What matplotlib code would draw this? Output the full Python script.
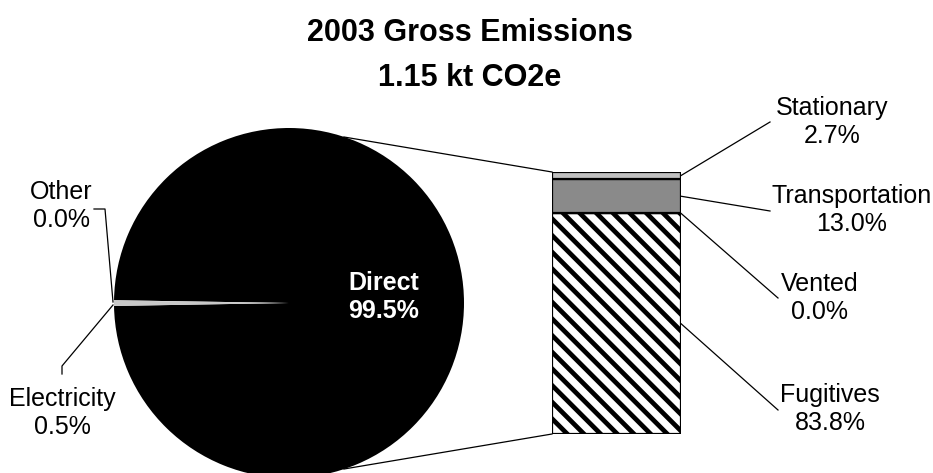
import matplotlib
matplotlib.use('Agg')
import matplotlib.pyplot as plt

plt.rcParams['font.family'] = ['Liberation Sans', 'DejaVu Sans']
plt.rcParams['hatch.linewidth'] = 3.4

# pie: total split into Direct / Electricity / Other
pie_labels = ['Direct', 'Electricity', 'Other']
pie_values = [99.5, 0.5, 0.02]
pie_pct = ['99.5%', '0.5%', '0.0%']

# bar: Direct broken down (bottom to top)
bar_labels = ['Fugitives', 'Vented', 'Transportation', 'Stationary']
bar_values = [83.8, 0.0, 13.0, 2.7]
bar_pct = ['83.8%', '0.0%', '13.0%', '2.7%']

W, H = 933, 473
fig = plt.figure(figsize=(W / 100, H / 100), dpi=100)
ax = fig.add_axes([0, 0, 1, 1])

ax.pie(pie_values, colors=['black', '#c8c8c8', '#e0e0e0'], startangle=180.9,
       counterclock=True, center=(289, 303), radius=175, frame=True,
       wedgeprops=dict(linewidth=0))
ax.set_xlim(0, W)
ax.set_ylim(H, 0)
ax.set_aspect('auto')
ax.axis('off')

# bar of pie
bax = fig.add_axes([552 / W, (H - 434) / H, 129 / W, 262 / H])
face = ['white', 'white', '#8a8a8a', '#c0c0c0']
hatch = ['\\\\', None, None, None]
bottom = 0
mids = []
for v, fc, h in zip(bar_values, face, hatch):
    bax.bar(0, v, width=1, bottom=bottom, color=fc, hatch=h,
            edgecolor='black', linewidth=1.6)
    mids.append(bottom + v / 2)
    bottom += v
bax.set_xlim(-0.5, 0.5)
bax.set_ylim(0, sum(bar_values))
bax.axis('off')


def to_main(x, y):
    px = bax.transData.transform((x, y))
    return ax.transData.inverted().transform(px)


lk = dict(color='black', linewidth=0.9)
# lines linking pie to bar
top_l = to_main(-0.5, sum(bar_values))
bot_l = to_main(-0.5, 0)
ax.plot([344, top_l[0]], [137, top_l[1]], **lk)
ax.plot([344, bot_l[0]], [469, bot_l[1]], **lk)

# bar labels
label_pos = {'Stationary': (832, 122), 'Transportation': (852, 210),
             'Vented': (820, 298), 'Fugitives': (830, 409)}
line_end = {'Stationary': (770, 122), 'Transportation': (770, 211),
            'Vented': (778, 298), 'Fugitives': (778, 410)}
for name, v, pct, m in zip(bar_labels, bar_values, bar_pct, mids):
    sx, sy = to_main(0.5, m)
    ex, ey = line_end[name]
    ax.plot([sx, ex], [sy, ey], **lk)
    tx, ty = label_pos[name]
    ax.text(tx, ty, f'{name}\n{pct}', ha='center', va='center',
            fontsize=18, linespacing=1.25)

# pie labels
ax.text(384, 297, f'{pie_labels[0]}\n{pie_pct[0]}', ha='center', va='center',
        fontsize=18, fontweight='bold', color='white', linespacing=1.25)
ax.text(61, 206, f'{pie_labels[2]}\n{pie_pct[2]}', ha='center', va='center',
        fontsize=18, linespacing=1.25)
ax.plot([94, 105, 113], [209, 209, 302], **lk)
ax.text(62, 413, f'{pie_labels[1]}\n{pie_pct[1]}', ha='center', va='center',
        fontsize=18, linespacing=1.25)
ax.plot([113, 62, 62], [305, 366, 374], **lk)

ax.text(470, 33, '2003 Gross Emissions', ha='center', va='center',
        fontsize=22, fontweight='bold')
ax.text(470, 78, '1.15 kt CO2e', ha='center', va='center',
        fontsize=22, fontweight='bold')

fig.savefig('out.png', dpi=100)
